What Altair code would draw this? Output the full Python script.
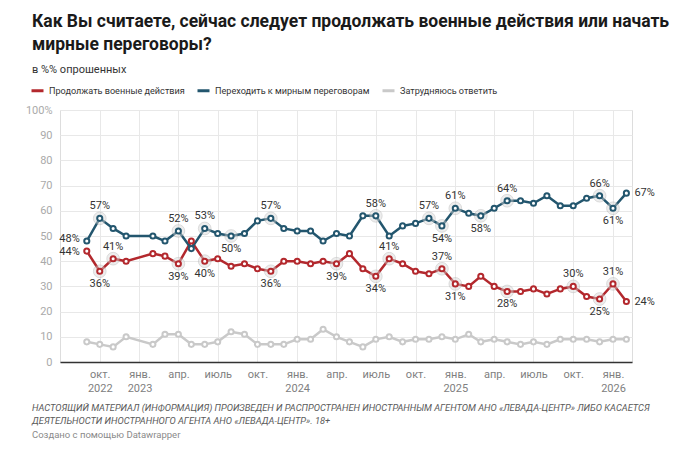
import altair as alt
import pandas as pd

# ---- data ----
months = ["2022-09", "2022-10", "2022-11", "2022-12", "2023-02", "2023-03", "2023-04", "2023-05",
          "2023-06", "2023-07", "2023-08", "2023-09", "2023-10", "2023-11", "2023-12", "2024-01",
          "2024-02", "2024-03", "2024-04", "2024-05", "2024-06", "2024-07", "2024-08", "2024-09",
          "2024-10", "2024-11", "2024-12", "2025-01", "2025-02", "2025-03", "2025-04", "2025-05",
          "2025-06", "2025-07", "2025-08", "2025-09", "2025-10", "2025-11", "2025-12", "2026-01",
          "2026-02"]
continue_war = [44, 36, 41, 40, 43, 42, 39, 48, 40, 41, 38, 39, 37, 36, 40, 40,
                39, 40, 39, 43, 37, 34, 41, 39, 36, 35, 37, 31, 30, 34, 30, 28,
                28, 29, 27, 29, 30, 26, 25, 31, 24]
peace_talks = [48, 57, 53, 50, 50, 48, 52, 45, 53, 51, 50, 51, 56, 57, 53, 52,
               52, 48, 51, 50, 58, 58, 50, 54, 55, 57, 54, 61, 59, 58, 61, 64,
               64, 63, 66, 62, 62, 65, 66, 61, 67]
hard_to_say = [8, 7, 6, 10, 7, 11, 11, 7, 7, 8, 12, 11, 7, 7, 7, 9,
               9, 13, 10, 8, 6, 9, 10, 8, 9, 9, 10, 9, 11, 8, 9, 8,
               7, 8, 7, 9, 9, 9, 8, 9, 9]

series_names = ["Продолжать военные действия", "Переходить к мирным переговорам", "Затрудняюсь ответить"]
series_colors = ["#b3282d", "#23566e", "#c9c9c9"]

# annotated points: series index, month, label position
label_series = [1, 0, 1, 0, 0, 1, 0, 1, 0, 1, 1, 0, 0, 1, 0, 0,
                1, 1, 0, 1, 0, 1, 1, 0, 0, 1, 0, 1, 0, 1, 0]
label_months = ["2022-09", "2022-09", "2022-10", "2022-10", "2022-11", "2023-04", "2023-04", "2023-06",
                "2023-06", "2023-08", "2023-11", "2023-11", "2024-04", "2024-07", "2024-07", "2024-08",
                "2024-11", "2024-12", "2024-12", "2025-01", "2025-01", "2025-03", "2025-05", "2025-05",
                "2025-10", "2025-12", "2025-12", "2026-01", "2026-01", "2026-02", "2026-02"]
label_pos = ["left_up", "left_down", "above", "below", "above", "above", "below", "above",
             "below", "below", "above", "below", "below", "above", "below", "above",
             "above", "below", "above", "above", "below", "below", "above", "below",
             "above", "above", "below", "below", "above", "right", "right"]

title_lines = ["Как Вы считаете, сейчас следует продолжать военные действия или начать",
               "мирные переговоры?"]
subtitle = "в %% опрошенных"
footer_lines = ["НАСТОЯЩИЙ МАТЕРИАЛ (ИНФОРМАЦИЯ) ПРОИЗВЕДЕН И РАСПРОСТРАНЕН ИНОСТРАННЫМ АГЕНТОМ АНО «ЛЕВАДА-ЦЕНТР» ЛИБО КАСАЕТСЯ",
                "ДЕЯТЕЛЬНОСТИ ИНОСТРАННОГО АГЕНТА АНО «ЛЕВАДА-ЦЕНТР». 18+"]
credit = "Создано с помощью Datawrapper"

# ---- tables ----
series_values = [continue_war, peace_talks, hard_to_say]
rows = []
for s_idx, vals in enumerate(series_values):
    for m, v in zip(months, vals):
        rows.append({"date": m + "-01", "series": series_names[s_idx], "value": v, "order": s_idx})
df = pd.DataFrame(rows)

lab_rows = []
for s_idx, m, p in zip(label_series, label_months, label_pos):
    v = series_values[s_idx][months.index(m)]
    lab_rows.append({"date": m + "-01", "series": series_names[s_idx], "value": v, "pos": p,
                     "label": f"{v}%"})
labels = pd.DataFrame(lab_rows)

FONT = "Roboto"

x_enc = alt.X("date:T",
              scale=alt.Scale(domain=[alt.DateTime(year=2022, month=7, date=1),
                                      alt.DateTime(year=2026, month=2, date=14)]),
              axis=alt.Axis(
                  values=[alt.DateTime(year=y, month=m, date=1)
                          for y, m in [(2022, 10), (2023, 1), (2023, 4), (2023, 7), (2023, 10),
                                       (2024, 1), (2024, 4), (2024, 7), (2024, 10), (2025, 1),
                                       (2025, 4), (2025, 7), (2025, 10), (2026, 1)]],
                  labelExpr=("month(datum.value)==0 ? ['янв.', '' + year(datum.value)] : "
                             "(month(datum.value)==9 && year(datum.value)==2022) ? ['окт.', '2022'] : "
                             "month(datum.value)==3 ? 'апр.' : month(datum.value)==6 ? 'июль' : 'окт.'"),
                  title=None, grid=True, gridColor="#e8e8e8", ticks=False,
                  domainColor="#333333", domainWidth=1.5, labelColor="#808080",
                  labelFontSize=11, labelFont=FONT, labelPadding=6, labelLineHeight=14,
                  labelOverlap=False))
y_enc = alt.Y("value:Q",
              scale=alt.Scale(domain=[0, 100], nice=False),
              axis=alt.Axis(values=list(range(0, 101, 10)),
                            labelExpr="datum.value == 100 ? '100%' : datum.label",
                            title=None, domain=False, ticks=False, gridColor="#e8e8e8",
                            labelColor="#aaaaaa", labelFontSize=11, labelFont=FONT, labelPadding=8,
                            labelOverlap=False))

color_scale = alt.Scale(domain=series_names, range=series_colors)

lines = alt.Chart(df).mark_line(strokeWidth=2.5).encode(
    x=x_enc, y=y_enc,
    color=alt.Color("series:N", scale=color_scale, sort=series_names,
                    legend=alt.Legend(orient="none", legendX=-30, legendY=-27, direction="horizontal",
                                      title=None, symbolType="stroke", symbolStrokeWidth=3,
                                      symbolSize=144, labelFont=FONT, labelFontSize=9.1,
                                      labelColor="#333333", columnPadding=6, labelOffset=4,
                                      labelLimit=0)),
    order=alt.Order("order:Q"),
)

halos = alt.Chart(labels[labels["pos"].isin(["above", "below"])]).mark_circle(
    size=160, color="#d9d9d9", opacity=0.45, stroke="#a0a0a0", strokeWidth=0.8
).encode(x=x_enc, y=y_enc)

points = alt.Chart(df).mark_point(shape="circle", filled=False, fill="white", fillOpacity=1,
                                  size=26, strokeWidth=2, opacity=1).encode(
    x=x_enc, y=y_enc,
    stroke=alt.Stroke("series:N", scale=color_scale, legend=None),
)

def text_layer(pos, **kw):
    return alt.Chart(labels[labels["pos"] == pos]).mark_text(
        font=FONT, fontSize=11, color="#333333", **kw
    ).encode(x=x_enc, y=y_enc, text="label:N")

t_above = text_layer("above", dy=-12, align="center", baseline="middle")
t_below = text_layer("below", dy=13, align="center", baseline="middle")
t_left_up = text_layer("left_up", dx=-7, dy=-2, align="right", baseline="middle")
t_left_down = text_layer("left_down", dx=-7, dy=1, align="right", baseline="middle")
t_right = text_layer("right", dx=8, align="left", baseline="middle")

def static_text(txt, x, y, **kw):
    return alt.Chart(pd.DataFrame({"t": [txt]})).mark_text(
        align="left", baseline="middle", font=FONT, **kw
    ).encode(x=alt.value(x), y=alt.value(y), text="t:N")

title1 = static_text(title_lines[0], -28, -88, fontSize=17.5, fontWeight="bold", color="#1a1a1a")
title2 = static_text(title_lines[1], -28, -65, fontSize=17.5, fontWeight="bold", color="#1a1a1a")
sub = static_text(subtitle, -28, -40, fontSize=11, color="#333333")
foot1 = static_text(footer_lines[0], -28, 298, fontSize=9.3, fontStyle="italic", color="#5a5a5a")
foot2 = static_text(footer_lines[1], -28, 311, fontSize=9.3, fontStyle="italic", color="#5a5a5a")
cred = static_text(credit, -28, 325, fontSize=9.5, color="#8a8a8a")

chart = alt.layer(
    lines, halos, points, t_above, t_below, t_left_up, t_left_down, t_right,
    title1, title2, sub, foot1, foot2, cred
).properties(
    width=572, height=252,
    autosize=alt.AutoSizeParams(type="none"),
    padding={"left": 52, "top": 102, "right": 40, "bottom": 92},
).configure_view(stroke=None).configure(font=FONT)

chart.save("out.html", embed_options={"renderer": "svg", "actions": False})
